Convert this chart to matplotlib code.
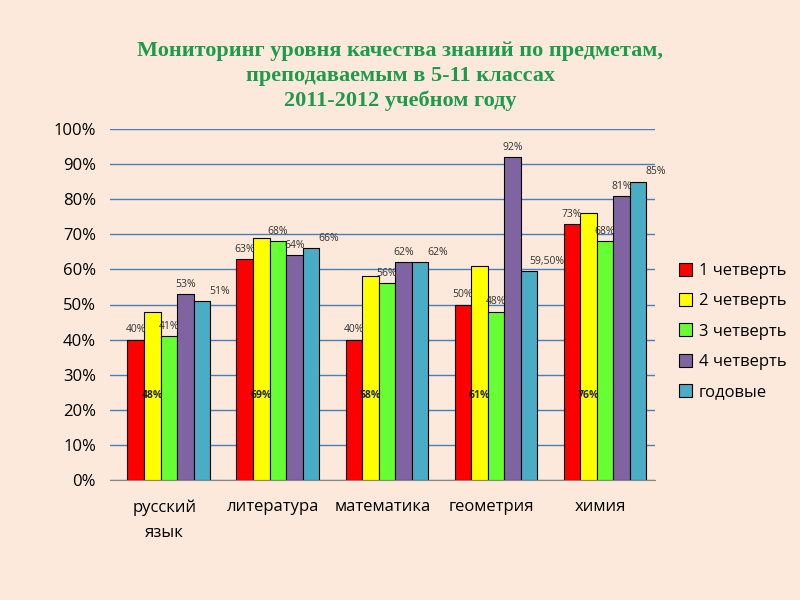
import numpy as np
import matplotlib.pyplot as plt

plt.rcParams['font.family'] = ['Open Sans', 'DejaVu Sans']

subjects = ['русский\nязык', 'литература', 'математика', 'геометрия', 'химия']
series_names = ['1 четверть', '2 четверть', '3 четверть', '4 четверть', 'годовые']
q1 = [40, 63, 40, 50, 73]
q2 = [48, 69, 58, 61, 76]
q3 = [41, 68, 56, 48, 68]
q4 = [53, 64, 62, 92, 81]
year = [51, 66, 62, 59.5, 85]
year_labels = ['51%', '66%', '62%', '59,50%', '85%']

colors = ['#ff0000', '#ffff00', '#66ff33', '#8064a2', '#4bacc6']
bg = '#fde9db'

fig = plt.figure(figsize=(8, 6), dpi=100, facecolor=bg)
ax = fig.add_axes([0.1375, 0.2, 0.6815, 0.585])
ax.set_facecolor(bg)

x = np.arange(len(subjects))
w = 0.152
data = [q1, q2, q3, q4, year]
for i, (vals, c, name) in enumerate(zip(data, colors, series_names)):
    pos = x + (i - 2) * w + 0.04
    ax.bar(pos, vals, width=w, color=c, edgecolor='black', linewidth=0.8,
           label=name, zorder=3)
    for j, v in enumerate(vals):
        if i == 1:
            # second-quarter labels sit low inside the bars
            ax.annotate(f'{v}%', (pos[j], 24), ha='center', va='center',
                        fontsize=7.5, fontweight='bold', color='#222222', zorder=4)
            continue
        txt = year_labels[j] if i == 4 else f'{v}%'
        dx = 13 if i == 4 else 0
        ax.annotate(txt, (pos[j], v), xytext=(dx, 3), textcoords='offset points',
                    ha='center', va='bottom', fontsize=7.5, color='#333333', zorder=4)

ax.set_ylim(0, 100)
ax.set_xlim(-0.5, 4.5)
ax.set_yticks(np.arange(0, 101, 10))
ax.set_yticklabels([f'{t}%' for t in range(0, 101, 10)], fontsize=12)
ax.set_xticks(x)
ax.set_xticklabels(subjects, fontsize=12, linespacing=1.75)
ax.tick_params(axis='x', length=0, pad=14)
ax.tick_params(axis='y', length=0, pad=10)
ax.grid(axis='y', color='#4a7ebb', linewidth=1, zorder=0)
for s in ['left', 'right', 'top']:
    ax.spines[s].set_visible(False)
ax.spines['bottom'].set_color('#868686')

fig.text(0.5, 0.873, 'Мониторинг уровня качества знаний по предметам,\n'
         'преподаваемым в 5-11 классах\n2011-2012 учебном году',
         ha='center', va='center', fontsize=16, fontweight='bold',
         family='Liberation Serif', color='#1e9a4c', linespacing=1.3)

ax.legend(loc='upper left', bbox_to_anchor=(0.83, 0.587),
          bbox_transform=fig.transFigure, frameon=False, fontsize=12,
          handlelength=0.8, handleheight=0.8, handletextpad=0.4,
          labelspacing=0.85)

plt.savefig('out.png', dpi=100, facecolor=bg)
